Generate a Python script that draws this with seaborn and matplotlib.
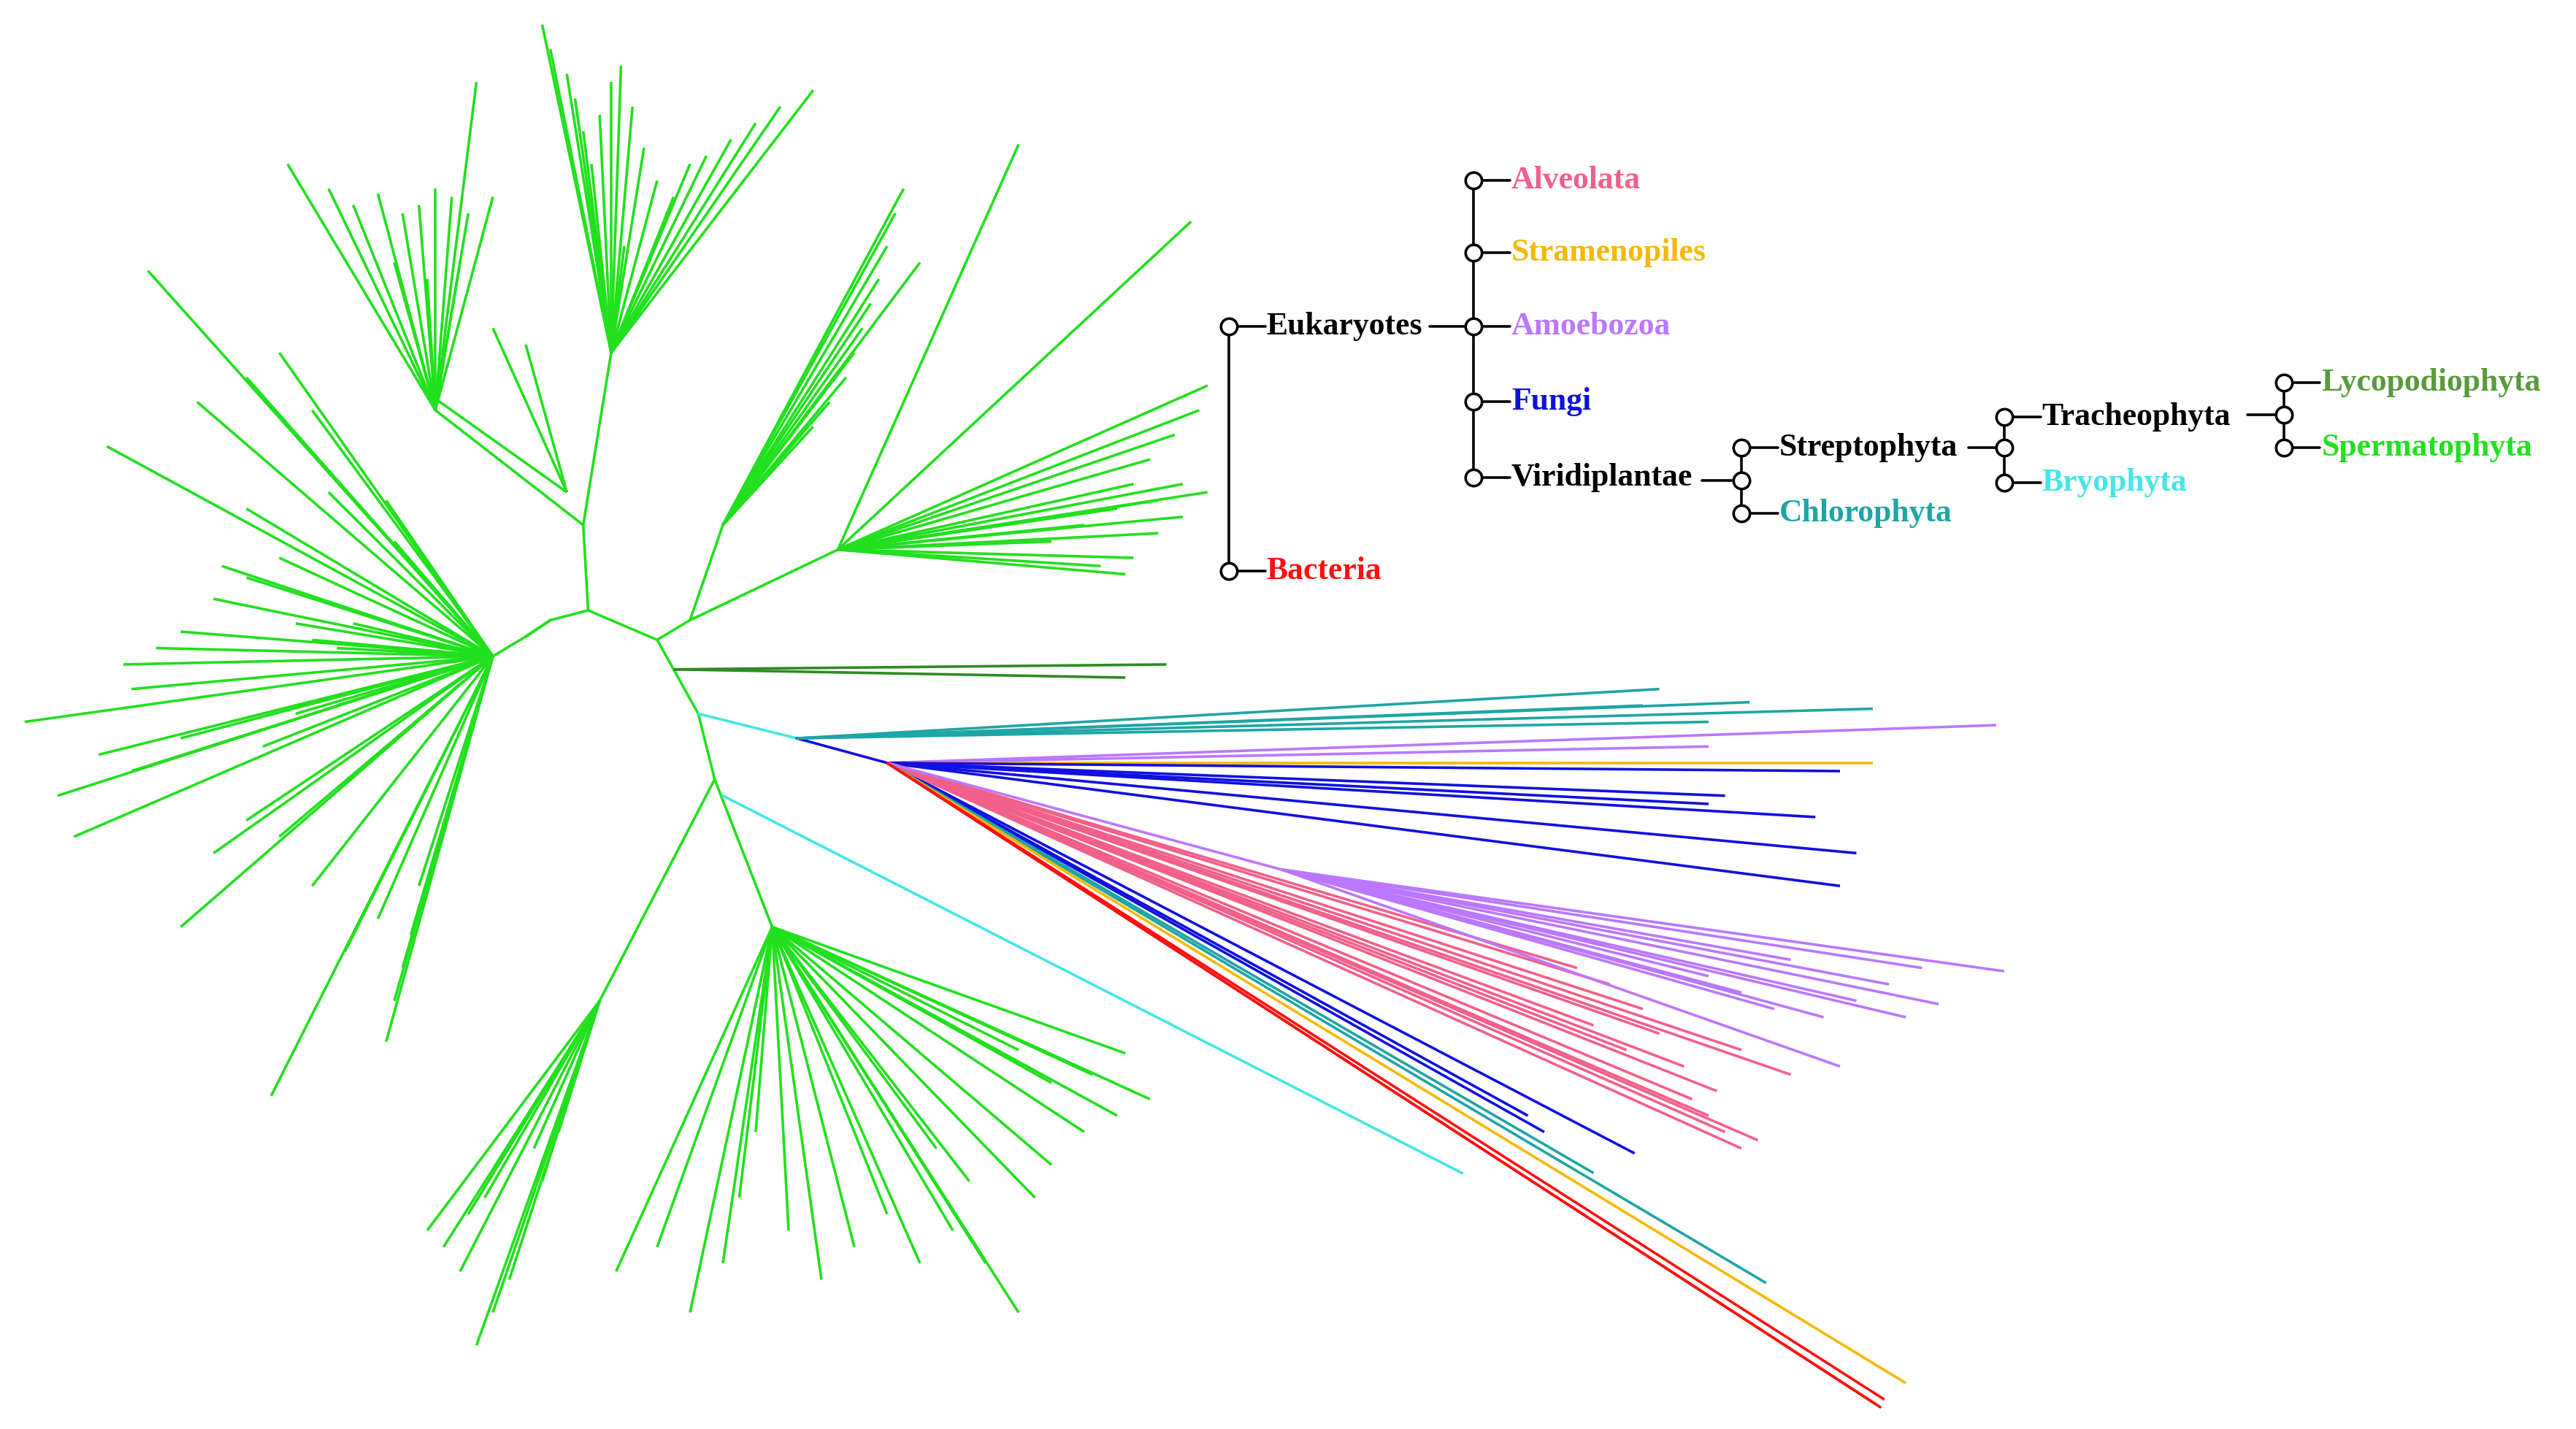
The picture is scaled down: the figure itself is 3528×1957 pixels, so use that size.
import matplotlib
matplotlib.use("Agg")
import matplotlib.pyplot as plt
import seaborn as sns

sns.set_theme(style="white")
plt.rcParams['font.family'] = ['Liberation Serif', 'DejaVu Serif']

GREEN = "#22e01e"
DKGREEN = "#2e8b22"
CYAN = "#44e6e6"
TEAL = "#1fa5a5"
BLUE = "#1010e0"
PURPLE = "#bb77ff"
PINK = "#f2608a"
ORANGE = "#f5b800"
RED = "#ff1010"

# backbone of the tree (node chains), coordinates
backbone = [
    ([(335, 378), (358, 372), (400, 390), (410, 408), (425, 435), (435, 475)], GREEN),
    ([(335, 378), (320, 388), (335, 378)], GREEN),
    ([(358, 372), (355, 320), (372, 215)], GREEN),
    ([(400, 390), (420, 378), (510, 335)], GREEN),
    ([(420, 378), (440, 320)], GREEN),
    ([(435, 475), (470, 565)], GREEN),
    ([(435, 475), (365, 610)], GREEN),
    ([(320, 388), (300, 400)], GREEN),
    ([(355, 320), (265, 250)], GREEN),
    ([(425, 435), (485, 450)], CYAN),
    ([(440, 485), (890, 715)], CYAN),
    ([(485, 450), (540, 465)], BLUE),
]

# fans: base point, colour, list of tips
fan_top_base = (372, 215)
fan_top_tips = [(330, 15), (335, 30), (345, 45), (350, 60), (355, 80), (360, 100), (365, 70),
                (372, 50), (378, 40), (385, 65), (392, 90), (400, 110), (410, 120), (420, 100),
                (430, 95), (445, 85), (460, 75), (475, 65), (495, 55), (380, 150), (365, 160)]
fan_tl_base = (265, 250)
fan_tl_tips = [(175, 100), (200, 115), (215, 125), (230, 118), (245, 130), (255, 125), (265, 115),
               (275, 120), (285, 130), (290, 50), (300, 120), (280, 160), (260, 170), (240, 160)]
fan_tl2_base = (345, 300)
fan_tl2_tips = [(258, 238), (300, 200), (320, 210)]
fan_ur_base = (510, 335)
fan_ur_tips = [(725, 135), (735, 235), (735, 300), (720, 315), (705, 325), (690, 340), (685, 350),
               (670, 345), (700, 280), (715, 265), (730, 250), (720, 295), (705, 305), (690, 295),
               (680, 310), (660, 320), (640, 330), (620, 88)]
fan_ur2_base = (440, 320)
fan_ur2_tips = [(550, 115), (545, 130), (540, 150), (535, 170), (530, 185), (525, 200), (520, 215),
                (515, 230), (505, 245), (495, 260), (560, 160)]
fan_left_base = (300, 400)
fan_left_tips = [(15, 440), (35, 485), (45, 510), (65, 272), (90, 165), (110, 565), (75, 405),
                 (80, 420), (95, 395), (110, 385), (130, 365), (135, 345), (150, 352), (170, 340),
                 (180, 380), (190, 390), (205, 395), (215, 380), (235, 305), (150, 310), (200, 300),
                 (240, 330), (60, 460), (80, 470), (110, 450), (140, 440), (160, 455), (180, 435),
                 (205, 430), (120, 245), (150, 230), (170, 215), (190, 250)]
fan_left2_base = (300, 400)
fan_left2_tips = [(165, 668), (235, 635), (240, 610), (245, 590), (250, 570), (255, 540), (230, 560),
                  (210, 580), (190, 540), (170, 510), (150, 500), (130, 520)]
fan_low_base = (470, 565)
fan_low_tips = [(375, 775), (400, 760), (420, 800), (440, 770), (450, 730), (460, 690), (480, 750),
                (500, 780), (520, 760), (540, 740), (560, 770), (580, 750), (600, 770), (620, 800),
                (630, 730), (640, 710), (660, 690), (680, 680), (700, 670), (685, 642), (665, 655),
                (640, 660), (620, 640), (590, 720), (570, 700)]
fan_low2_base = (365, 610)
fan_low2_tips = [(260, 750), (270, 760), (280, 775), (290, 820), (300, 800), (310, 780), (325, 700),
                 (340, 690), (330, 720), (285, 740), (295, 730)]
fan_dkg_base = (410, 408)
fan_dkg_tips = [(710, 405), (685, 413)]
fan_teal_base = (485, 450)
fan_teal_tips = [(1010, 420), (1065, 428), (1140, 432), (1000, 430), (1040, 440)]
fan_mix_base = (540, 465)
fan_purple_tips = [(1215, 442), (1040, 455)]
fan_orange_tips = [(1140, 465)]
fan_blue_tips = [(1120, 470), (1050, 485), (1040, 490), (1105, 498), (1130, 520), (1120, 540),
                 (995, 703), (940, 690), (930, 680)]
fan_pink_tips = [(1060, 700), (1070, 695), (1050, 690), (1040, 680), (1030, 670), (1090, 655),
                 (1060, 640), (1010, 630), (1000, 615), (980, 600), (960, 590), (1045, 665),
                 (1025, 650), (990, 640), (970, 625)]
fan_violet_base = (780, 530)
fan_violet_tips = [(1220, 592), (1180, 612), (1160, 620), (1120, 650), (1150, 600), (1130, 610),
                   (1110, 620), (1080, 615), (1060, 605), (1040, 595), (1170, 590), (1090, 585)]
fan_teal2_tips = [(970, 715), (1075, 782)]
fan_orange2_tips = [(1160, 843)]
fan_red_tips = [(1145, 858), (1147, 853), (1142, 856)]

fans = [
    (fan_top_base, fan_top_tips, GREEN), (fan_tl_base, fan_tl_tips, GREEN),
    (fan_tl2_base, fan_tl2_tips, GREEN), (fan_ur_base, fan_ur_tips, GREEN),
    (fan_ur2_base, fan_ur2_tips, GREEN), (fan_left_base, fan_left_tips, GREEN),
    (fan_left2_base, fan_left2_tips, GREEN), (fan_low_base, fan_low_tips, GREEN),
    (fan_low2_base, fan_low2_tips, GREEN), (fan_dkg_base, fan_dkg_tips, DKGREEN),
    (fan_teal_base, fan_teal_tips, TEAL), (fan_mix_base, fan_purple_tips, PURPLE),
    (fan_mix_base, fan_orange_tips, ORANGE), (fan_mix_base, fan_blue_tips, BLUE),
    (fan_mix_base, fan_pink_tips, PINK), (fan_mix_base, [fan_violet_base], PURPLE),
    (fan_violet_base, fan_violet_tips, PURPLE), (fan_mix_base, fan_teal2_tips, TEAL),
    (fan_mix_base, fan_orange2_tips, ORANGE), (fan_mix_base, fan_red_tips, RED),
]

# legend cladogram: (label, x, y, colour)
leg_labels = ["Eukaryotes", "Bacteria", "Alveolata", "Stramenopiles", "Amoebozoa", "Fungi",
              "Viridiplantae", "Streptophyta", "Chlorophyta", "Tracheophyta", "Bryophyta",
              "Lycopodiophyta", "Spermatophyta"]
leg_x = [748, 748, 897, 897, 897, 897, 897, 1060, 1060, 1220, 1220, 1390, 1390]
leg_y = [199, 348, 110, 154, 199, 245, 291, 273, 313, 254, 294, 233, 273]
leg_colors = ["black", RED, PINK, ORANGE, PURPLE, BLUE, "black", "black", TEAL, "black", CYAN,
              "#5a9a3a", GREEN]
# where each internal label's line ends and joins the next bracket
leg_join = {"Eukaryotes": (870, 897, 199), "Viridiplantae": (1036, 1060, 293),
            "Streptophyta": (1198, 1220, 273), "Tracheophyta": (1368, 1390, 253)}
brackets = [(748, 199, 348), (897, 110, 291), (1060, 273, 313), (1220, 254, 294), (1390, 233, 273)]

fig = plt.figure(figsize=(35.28, 19.57), dpi=100)
ax = fig.add_axes([0, 0, 1, 1])
ax.set_xlim(0, 1568)
ax.set_ylim(871, 0)
ax.axis("off")

lw = 2.6
for pts, col in backbone:
    xs, ys = zip(*pts)
    sns.lineplot(x=list(xs), y=list(ys), sort=False, color=col, lw=lw, ax=ax, estimator=None)
for base, tips, col in fans:
    for tx, ty in tips:
        ax.plot([base[0], tx], [base[1], ty], color=col, lw=lw, solid_capstyle="butt")

for bx, y0, y1 in brackets:
    ax.plot([bx, bx], [y0, y1], color="black", lw=2.6)
for lab, x, y, c in zip(leg_labels, leg_x, leg_y, leg_colors):
    ax.plot([x, x + 22], [y, y], color="black", lw=2.6)
    ax.text(x + 23, y, lab, color=c, fontsize=31.5, fontweight="bold", va="center", ha="left")
for lab, (x0, x1, y) in leg_join.items():
    ax.plot([x0, x1], [y, y], color="black", lw=2.6)
mid = [(748, 199), (748, 348), (897, 110), (897, 154), (897, 199), (897, 245), (897, 291),
       (1060, 273), (1060, 293), (1060, 313), (1220, 254), (1220, 273), (1220, 294),
       (1390, 233), (1390, 253), (1390, 273)]
mx, my = zip(*mid)
ax.scatter(mx, my, s=260, facecolor="white", edgecolor="black", linewidth=2.6, zorder=5)

fig.savefig("out.png", dpi=100)
